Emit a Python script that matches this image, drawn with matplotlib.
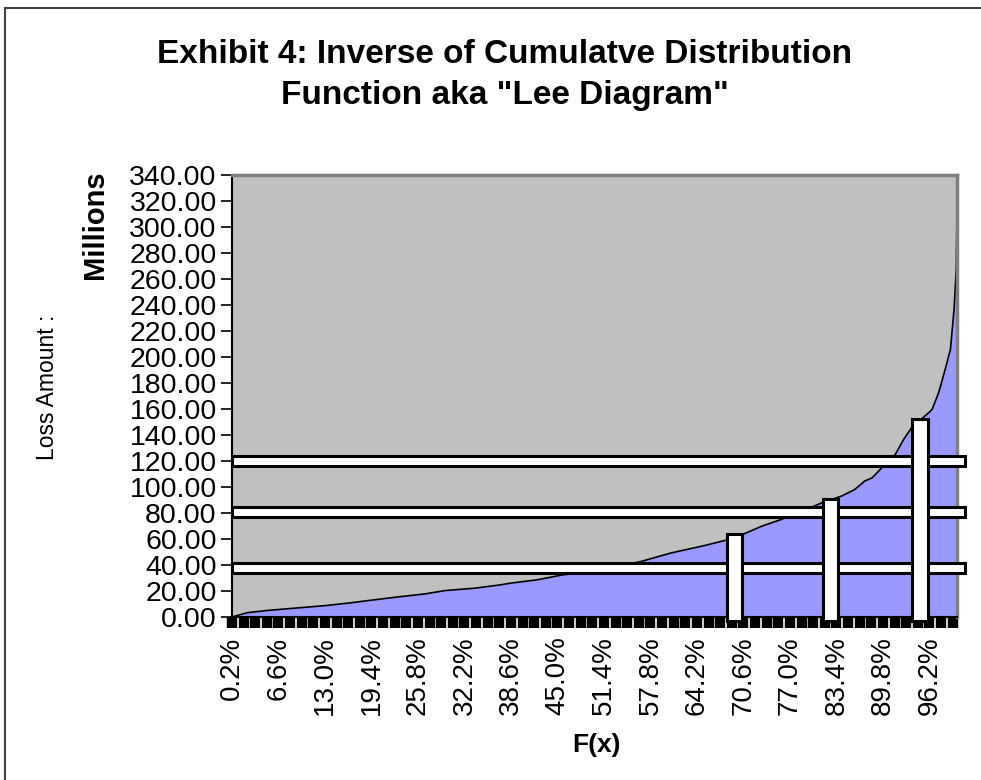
import matplotlib
matplotlib.use("Agg")
import matplotlib.pyplot as plt
from matplotlib.patches import Rectangle
from matplotlib.lines import Line2D
import numpy as np

plt.rcParams['font.family'] = ['Liberation Sans', 'DejaVu Sans']

cdf_pct = [0.2, 2.3, 5.0, 9.7, 12.9, 16.7, 18.9, 23.0, 26.8, 29.5, 33.7, 37.1,
           38.5, 42.2, 45.8, 49.2, 56.5, 60.6, 65.2, 68.5, 70.7, 73.1, 75.8,
           78.2, 81.4, 84.1, 85.9, 87.3, 88.3, 89.7, 91.5, 92.7, 93.8, 96.2,
           96.6, 97.5, 98.4, 99.1, 99.6, 99.9, 100.0]
loss = [0.0, 3.3, 5.0, 7.2, 8.7, 11.0, 12.6, 15.4, 17.8, 20.3, 22.2, 24.7,
        26.0, 28.6, 32.5, 34.2, 42.7, 49.2, 54.9, 59.5, 64.0, 69.8, 75.0,
        80.0, 87.9, 93.0, 98.0, 104.6, 107.0, 115.0, 125.0, 137.0, 146.0,
        157.6, 160.0, 173.0, 191.0, 206.0, 237.0, 268.0, 312.0]

# retention layers (horizontal) and probability slices (vertical)
layer_levels = [38.0, 81.0, 120.0]
slice_pct = [69.4, 82.6, 94.9]
slice_tops = [64.0, 91.0, 152.0]

tick_pct = [0.2, 6.6, 13.0, 19.4, 25.8, 32.2, 38.6, 45.0, 51.4, 57.8, 64.2,
            70.6, 77.0, 83.4, 89.8, 96.2]
tick_labels = ["0.2%", "6.6%", "13.0%", "19.4%", "25.8%", "32.2%", "38.6%",
               "45.0%", "51.4%", "57.8%", "64.2%", "70.6%", "77.0%", "83.4%",
               "89.8%", "96.2%"]
y_ticks = list(range(0, 341, 20))

fig = plt.figure(figsize=(9.81, 7.80), dpi=100)
ax = fig.add_axes([232/981, 1-617/780, (957-232)/981, (617-175)/780])
ax.set_facecolor('#C0C0C0')

ax.fill_between(cdf_pct, loss, 0, color='#9999FF', lw=0, zorder=1)
ax.plot(cdf_pct, loss, color='black', lw=1.2, zorder=2)

ax.set_xlim(0.2, 100.0)
ax.set_ylim(0, 340)

# white layer bars running out past the right edge
for lev in layer_levels:
    ax.add_patch(Rectangle((0.2, lev - 3.9), 101.1 - 0.2, 7.8, facecolor='white',
                           edgecolor='black', lw=2.2, clip_on=False, zorder=5))
# vertical slices drawn over the layers
for p, top in zip(slice_pct, slice_tops):
    ax.add_patch(Rectangle((p - 1.05, -3.0), 2.1, top + 3.0, facecolor='white',
                           edgecolor='black', lw=2.2, clip_on=False, zorder=6))

ax.set_yticks(y_ticks)
ax.set_yticklabels(["%.2f" % v for v in y_ticks], fontsize=20.5)
ax.set_xticks(tick_pct)
ax.set_xticklabels(tick_labels, rotation=90, fontsize=20)
ax.set_xticks(np.arange(0.2, 100.0, 1.6), minor=True)
ax.tick_params(axis='y', direction='out', length=8, width=1.2, color='black', pad=3)
ax.tick_params(axis='x', which='major', direction='out', length=8, width=7.5,
               color='black', pad=6)
ax.tick_params(axis='x', which='minor', direction='out', length=8, width=7.5,
               color='black')

for side in ('top', 'right'):
    ax.spines[side].set_color('#808080')
    ax.spines[side].set_linewidth(2.5)
for side in ('left', 'bottom'):
    ax.spines[side].set_color('black')
    ax.spines[side].set_linewidth(1.5)

fig.text(505/981, 1-75/780,
         'Exhibit 4: Inverse of Cumulatve Distribution\nFunction aka "Lee Diagram"',
         ha='center', va='center', fontsize=24, fontweight='bold', linespacing=1.45)
fig.text(48/981, 1-387/780, 'Loss Amount :', rotation=90, ha='center',
         va='center', fontsize=16.5)
fig.text(95/981, 1-225/780, 'Millions', rotation=90, ha='center', va='center',
         fontsize=21, fontweight='bold')
fig.text(596/981, 1-745/780, 'F(x)', ha='center', va='center', fontsize=19,
         fontweight='bold')

# outer chart border (left and top edges)
fig.add_artist(Line2D([5/981, 5/981], [0, 1-8/780], transform=fig.transFigure,
                      color='#404040', lw=1.5))
fig.add_artist(Line2D([5/981, 1], [1-8/780, 1-8/780], transform=fig.transFigure,
                      color='#404040', lw=1.5))

fig.savefig('out.png', dpi=100)
